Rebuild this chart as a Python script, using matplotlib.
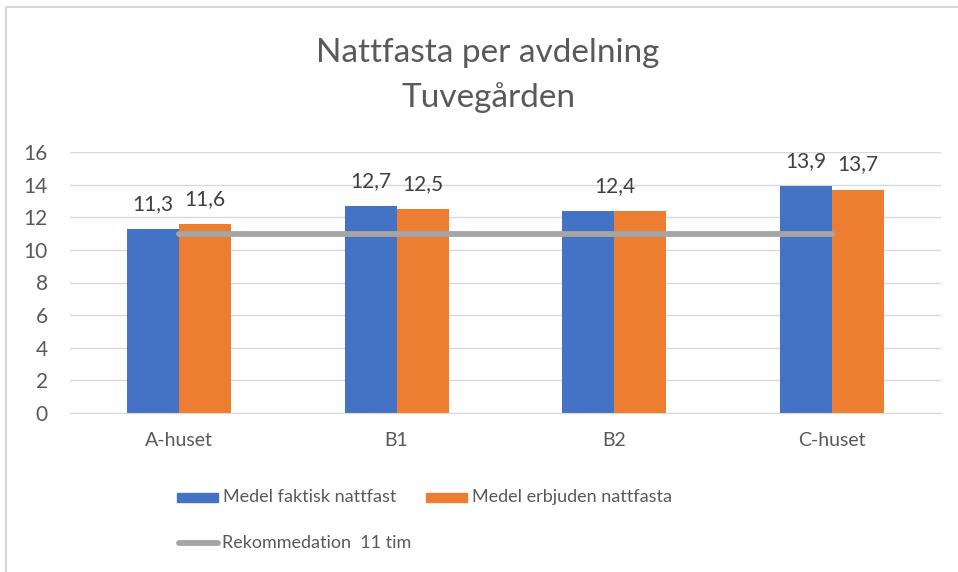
import matplotlib.pyplot as plt
import numpy as np
from matplotlib.patches import Rectangle
from matplotlib.lines import Line2D

plt.rcParams['font.family'] = ['Lato', 'DejaVu Sans']

# Data per avdelning
avdelningar = ['A-huset', 'B1', 'B2', 'C-huset']
faktisk = [11.3, 12.7, 12.4, 13.9]
erbjuden = [11.6, 12.5, 12.4, 13.7]
rekommendation = [11, 11, 11, 11]

# etiketter som visas ovanför staplarna (None = ingen etikett)
etikett_faktisk = ['11,3', '12,7', None, '13,9']
etikett_erbjuden = ['11,6', '12,5', None, '13,7']
etikett_gemensam = [None, None, '12,4', None]

BLA = '#4472C4'
ORANGE = '#ED7D31'
GRA = '#A5A5A5'
TEXT = '#595959'

fig = plt.figure(figsize=(9.58, 5.72), dpi=100)
ax = fig.add_axes([70 / 958, 159 / 572, 871 / 958, 261 / 572])

x = np.arange(len(avdelningar))
w = 0.239

ax.bar(x - w / 2, faktisk, w, color=BLA, zorder=2)
ax.bar(x + w / 2, erbjuden, w, color=ORANGE, zorder=2)
ax.plot(x, rekommendation, color=GRA, lw=4.2, zorder=3, solid_capstyle='round')

for i in range(len(avdelningar)):
    if etikett_faktisk[i]:
        ax.annotate(etikett_faktisk[i], (x[i] - w / 2, faktisk[i]), xytext=(0, 18),
                    textcoords='offset points', ha='center', va='center',
                    fontsize=15, color='#404040')
    if etikett_erbjuden[i]:
        ax.annotate(etikett_erbjuden[i], (x[i] + w / 2, erbjuden[i]), xytext=(0, 18),
                    textcoords='offset points', ha='center', va='center',
                    fontsize=15, color='#404040')
    if etikett_gemensam[i]:
        ax.annotate(etikett_gemensam[i], (x[i], max(faktisk[i], erbjuden[i])), xytext=(0, 18),
                    textcoords='offset points', ha='center', va='center',
                    fontsize=15, color='#404040')

ax.set_xlim(-0.5, len(avdelningar) - 0.5)
ax.set_ylim(0, 16)
ax.set_yticks(range(0, 17, 2))
ax.set_xticks(x)
ax.set_xticklabels(avdelningar)
ax.grid(axis='y', color='#D9D9D9', lw=1, zorder=0)
ax.tick_params(axis='both', length=0, labelsize=14, labelcolor=TEXT)
ax.tick_params(axis='y', labelsize=15, pad=16)
ax.tick_params(axis='x', pad=14)
for s in ['top', 'right', 'left']:
    ax.spines[s].set_visible(False)
ax.spines['bottom'].set_color('#D9D9D9')

fig.text(488 / 958, 1 - 53 / 572, 'Nattfasta per avdelning', ha='center', va='center',
         fontsize=24, color=TEXT)
fig.text(488 / 958, 1 - 98 / 572, 'Tuvegården', ha='center', va='center',
         fontsize=24, color=TEXT)

# Förklaring
def fx(px):
    return px / 958

def fy(py):
    return 1 - py / 572

fig.patches.append(Rectangle((fx(177), fy(502)), fx(41), 9 / 572, color=BLA,
                             transform=fig.transFigure, figure=fig))
fig.text(fx(223), fy(497), 'Medel faktisk nattfast', va='center', fontsize=13, color=TEXT)
fig.patches.append(Rectangle((fx(426), fy(502)), fx(41), 9 / 572, color=ORANGE,
                             transform=fig.transFigure, figure=fig))
fig.text(fx(472), fy(497), 'Medel erbjuden nattfasta', va='center', fontsize=13, color=TEXT)
fig.lines.append(Line2D([fx(179), fx(218)], [fy(543), fy(543)], color=GRA, lw=4.2,
                        solid_capstyle='round', transform=fig.transFigure, figure=fig))
fig.text(fx(222), fy(543), 'Rekommedation  11 tim', va='center', fontsize=13, color=TEXT)

# ram runt diagrammet
fig.lines.append(Line2D([fx(6), fx(6), fx(958)], [0, fy(7), fy(7)], color='#D9D9D9', lw=1.5,
                        transform=fig.transFigure, figure=fig))

fig.savefig('out.png', dpi=100)
